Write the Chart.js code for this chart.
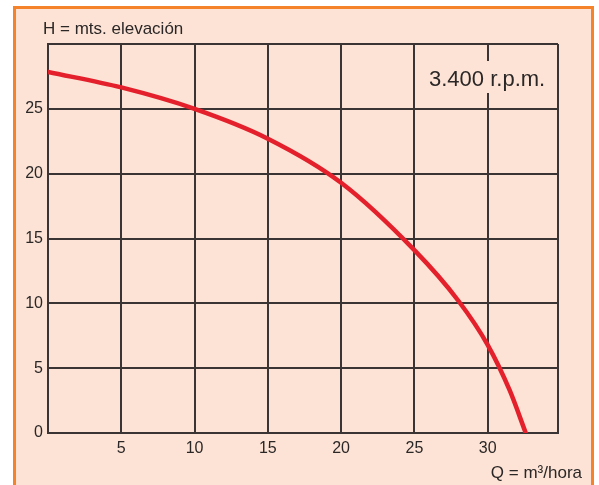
<!DOCTYPE html>
<html>
<head>
<meta charset="utf-8">
<script src="https://cdn.jsdelivr.net/npm/chart.js@4"></script>
<style>
  html, body { margin: 0; padding: 0; background: #fff; }
  body { width: 599px; height: 485px; position: relative; overflow: hidden; }
  .frame {
    position: absolute; left: 13px; top: 6px; width: 581px; height: 500px;
    box-sizing: border-box; border: 3px solid #f5832c; border-bottom: none;
    background: #fce3d5;
  }
  #curva { position: absolute; left: 0; top: 0; }
</style>
</head>
<body>
<div class="frame"></div>
<canvas id="curva" width="599" height="485"></canvas>
<script>
// curva caracteristica de la bomba a 3.400 r.p.m.
const caudal = [0, 5, 10, 15, 20, 25, 28, 30, 31.5, 32.6];           // Q, m3/hora
const altura = [27.85, 26.65, 25, 22.7, 19.3, 14.1, 10.2, 6.8, 3.3, 0]; // H, metros
const xTicks = [0, 5, 10, 15, 20, 25, 30, 34.8];
const xLabels = [5, 10, 15, 20, 25, 30];
const yTicks = [0, 5, 10, 15, 20, 25, 30];
const yLabels = [0, 5, 10, 15, 20, 25];

const FONT = '"Liberation Sans", Arial, Helvetica, sans-serif';
const INK = '#2b2727';
const GRID = '#3a3434';

const textos = {
  id: 'textos',
  afterDraw(chart) {
    const ctx = chart.ctx;
    ctx.save();
    ctx.fillStyle = INK;
    ctx.textBaseline = 'alphabetic';
    ctx.font = '17px ' + FONT;
    ctx.textAlign = 'left';
    ctx.fillText('H = mts. elevación', 43, 34);
    ctx.textAlign = 'right';
    ctx.fillText('Q = m³/hora', 582, 478);

    // rotulo de velocidad con fondo que tapa la cuadricula
    ctx.fillStyle = '#fce3d5';
    ctx.fillRect(424, 61, 130, 32);
    ctx.fillStyle = INK;
    ctx.font = '22px ' + FONT;
    ctx.textAlign = 'left';
    ctx.fillText('3.400 r.p.m.', 429, 86);
    ctx.restore();
  }
};

new Chart(document.getElementById('curva'), {
  type: 'line',
  data: {
    datasets: [{
      data: caudal.map((q, i) => ({ x: q, y: altura[i] })),
      borderColor: '#e3202b',
      borderWidth: 4.5,
      borderCapStyle: 'round',
      pointRadius: 0,
      cubicInterpolationMode: 'monotone',
      fill: false
    }]
  },
  options: {
    responsive: false,
    animation: false,
    layout: { padding: { top: 44, right: 41, left: 0, bottom: 0 } },
    plugins: { legend: { display: false }, tooltip: { enabled: false } },
    scales: {
      x: {
        type: 'linear', min: 0, max: 34.8,
        afterBuildTicks: s => { s.ticks = xTicks.map(v => ({ value: v })); },
        afterFit: s => { s.height = 52; },
        grid: { color: GRID, lineWidth: 2, drawTicks: false },
        border: { color: GRID, width: 2 },
        ticks: {
          padding: 6, color: INK, font: { family: FONT, size: 16 }, maxRotation: 0, autoSkip: false,
          callback: v => xLabels.includes(v) ? String(v) : ''
        }
      },
      y: {
        type: 'linear', min: 0, max: 30,
        afterBuildTicks: s => { s.ticks = yTicks.map(v => ({ value: v })); },
        afterFit: s => { s.width = 48; },
        grid: { color: GRID, lineWidth: 2, drawTicks: false },
        border: { color: GRID, width: 2 },
        ticks: {
          padding: 5, color: INK, font: { family: FONT, size: 16 }, autoSkip: false,
          callback: v => yLabels.includes(v) ? String(v) : ''
        }
      }
    }
  },
  plugins: [textos]
});
</script>
</body>
</html>
